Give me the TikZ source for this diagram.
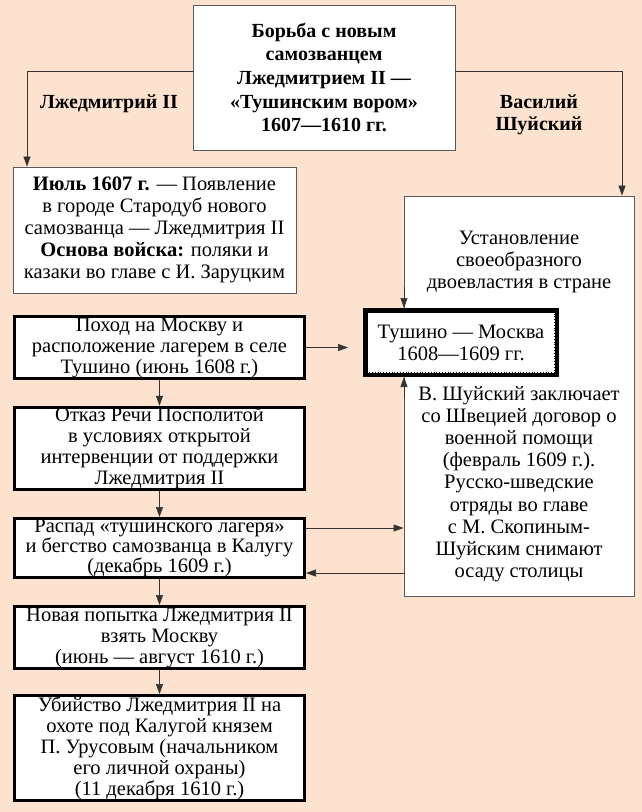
\documentclass[tikz,border=0pt]{standalone}
\usepackage{fontspec}
\setmainfont{Liberation Serif}
\usetikzlibrary{arrows.meta}
\definecolor{bg}{RGB}{253,226,207}
\begin{document}
\begin{tikzpicture}[x=1pt,y=-1pt,
  every node/.style={font=\fontsize{20.5}{21}\selectfont, align=center, inner sep=0.5pt},
  thinbox/.style={draw=black!65, line width=0.9pt, fill=white},
  thickbox/.style={draw=black, line width=3pt, fill=white, minimum width=290pt},
  arr/.style={draw=black!80, line width=0.7pt, -{Triangle[length=10pt,width=7pt]}},
  lbl/.style={font=\fontsize{20}{22}\selectfont\bfseries}
]
\fill[bg] (0,0) rectangle (642,812);
\useasboundingbox (0,0) rectangle (642,812);

% top box
\node[thinbox, minimum width=262pt, minimum height=145pt, font=\fontsize{20}{23.7}\selectfont\bfseries] (top) at (324,77.5)
  {Борьба с новым\\самозванцем\\Лжедмитрием II —\\«Тушинским вором»\\1607—1610 гг.};

% left first box
\node[thinbox, minimum width=283pt, minimum height=126pt, font=\fontsize{20.5}{22}\selectfont] (box1) at (154.5,230)
  {\textbf{Июль 1607 г.} — Появление\\в городе Стародуб нового\\самозванца — Лжедмитрия II\\\textbf{Основа войска:} поляки и\\казаки во главе с И. Заруцким};

% right big box
\node[thinbox, minimum width=230pt, minimum height=400pt] (right) at (519,396) {};
\node[font=\fontsize{20.5}{22}\selectfont] (rtext1) at (519,262)
  {Установление\\своеобразного\\двоевластия в стране};
\node[font=\fontsize{20.5}{22.2}\selectfont] (rtext2) at (519,484)
  {В. Шуйский заключает\\со Швецией договор о\\военной помощи\\(февраль 1609 г.).\\Русско-шведские\\отряды во главе\\с М. Скопиным-\\Шуйским снимают\\осаду столицы};

% Tushino box
\node[draw=black, line width=4.5pt, fill=white, minimum width=191.5pt, minimum height=64.5pt, font=\fontsize{20.5}{22}\selectfont] (tush) at (461,342.5)
  {Тушино — Москва\\1608—1609 гг.};
\draw[dotted, line width=0.8pt] ([shift={(4.5pt,-4.5pt)}]tush.north west) rectangle ([shift={(-4.5pt,4.5pt)}]tush.south east);

% left chain
\node[thickbox, minimum height=62pt] (b2) at (159.5,347.5)
  {Поход на Москву и\\расположение лагерем в селе\\Тушино (июнь 1608 г.)};
\node[thickbox, minimum height=80pt] (b3) at (159.5,448.5)
  {Отказ Речи Посполитой\\в условиях открытой\\интервенции от поддержки\\Лжедмитрия II};
\node[thickbox, minimum height=59pt, font=\fontsize{20.5}{20}\selectfont] (b4) at (159.5,548)
  {Распад «тушинского лагеря»\\и бегство самозванца в Калугу\\(декабрь 1609 г.)};
\node[thickbox, minimum height=62pt] (b5) at (159.5,637.5)
  {Новая попытка Лжедмитрия II\\взять Москву\\(июнь — август 1610 г.)};
\node[thickbox, minimum height=105pt] (b6) at (159.5,748)
  {Убийство Лжедмитрия II на\\охоте под Калугой князем\\П. Урусовым (начальником\\его личной охраны)\\(11 декабря 1610 г.)};

% labels
\node[lbl] (lj) at (109,104) {Лжедмитрий II};
\node[lbl] (vs) at (539,115) {Василий\\Шуйский};

% connectors
\coordinate (L) at (27,71);
\coordinate (R) at (622,71);
\draw[arr] (top.west |- L) -| (box1.north -| L);
\draw[arr] (top.east |- R) -| (right.north -| R);

\coordinate (a1) at (404,287);
\coordinate (a2) at (404,398);
\draw[arr] (a1) -- (tush.north -| a1);
\draw[arr] (a2) -- (tush.south -| a2);

\draw[arr, shorten >=15pt] (b2.east) -- (b2.east -| tush.west);
\draw[arr] (b2.south) -- (b3.north);
\coordinate (r1) at (0,528);
\coordinate (r2) at (0,573);
\draw[arr] (b4.east |- r1) -- (right.west |- r1);
\draw[arr] (right.west |- r2) -- (b4.east |- r2);
\draw[arr] (b3.south) -- (b4.north);
\draw[arr] (b4.south) -- (b5.north);
\draw[arr] (b5.south) -- (b6.north);
\end{tikzpicture}
\end{document}
